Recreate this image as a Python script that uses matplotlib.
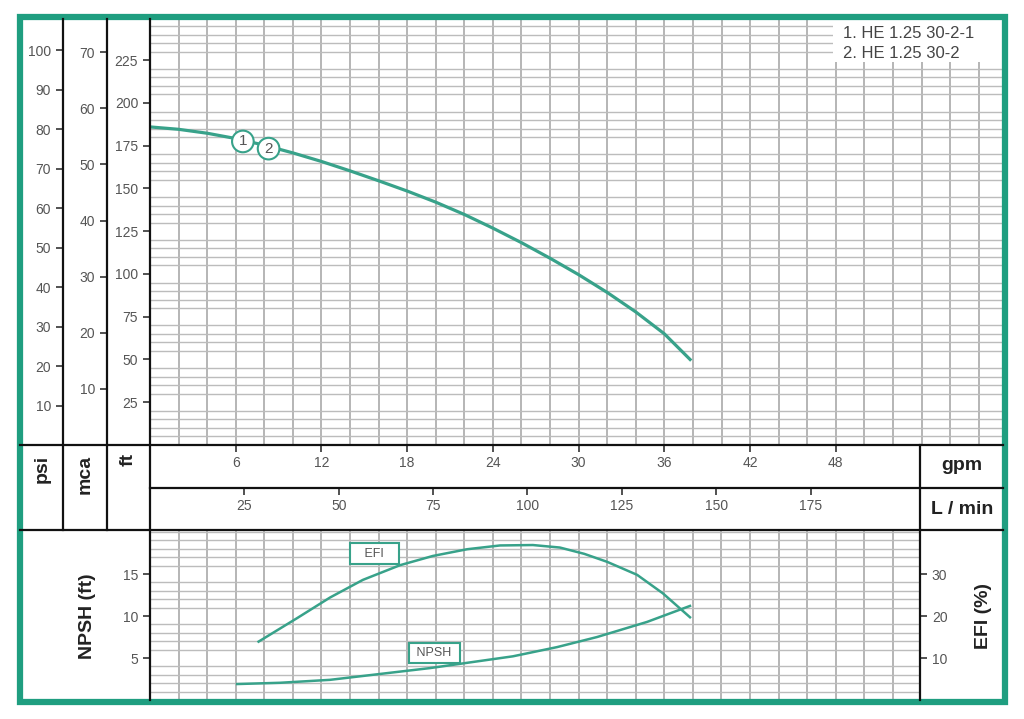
import matplotlib.pyplot as plt
import numpy as np
from matplotlib.lines import Line2D
from matplotlib.patches import Rectangle

plt.rcParams['font.family'] = ['Liberation Sans', 'DejaVu Sans']

# head curve (gpm, ft)
head_gpm = [0, 2, 4, 6, 8, 10, 12, 14, 16, 18, 20, 22, 24, 26, 28, 30, 32, 34, 36, 37.8]
head_ft = [186, 184.6, 182.3, 179.2, 175.3, 170.8, 165.8, 160.3, 154.5, 148.5, 142, 134.8,
           126.8, 118.3, 109.2, 99.6, 89.2, 77.8, 65, 50]

# efficiency curve (gpm, %)
efi_gpm = [7.6, 10.3, 12.6, 14.9, 17.5, 19.8, 22.2, 24.5, 26.8, 28.7, 30.4, 32.0, 34.1, 35.9, 37.8]
efi_pct = [13.9, 19.5, 24.4, 28.6, 32.1, 34.3, 35.9, 36.8, 36.9, 36.3, 34.8, 32.9, 29.8, 25.4, 19.7]

# NPSH curve (gpm, ft)
npsh_gpm = [6.1, 9.1, 12.6, 16.1, 19.6, 22.5, 25.4, 28.5, 31.3, 34.8, 37.8]
npsh_ft = [1.9, 2.05, 2.4, 3.1, 3.8, 4.5, 5.2, 6.3, 7.5, 9.3, 11.2]

models = ['1. HE 1.25 30-2-1', '2. HE 1.25 30-2']
model_tags = ['1', '2']
tag_gpm = [6.5, 8.3]
tag_ft = [177.5, 173.3]

gpm_ticks = [6, 12, 18, 24, 30, 36, 42, 48]
lmin_ticks = [25, 50, 75, 100, 125, 150, 175]
psi_ticks = [10, 20, 30, 40, 50, 60, 70, 80, 90, 100]
mca_ticks = [10, 20, 30, 40, 50, 60, 70]
ft_ticks = [25, 50, 75, 100, 125, 150, 175, 200, 225]
npsh_ticks = [5, 10, 15]
efi_ticks = [10, 20, 30]

W, H = 1024, 719
TEAL = '#1f9e80'
CURVE = '#38a28a'
GRID = '#bcbcbc'
TXT = '#555555'

GPM_MAX = 53.9
GPM_TOP = 59.7
FT_MAX = 249.1
NPSH_MAX = 20.24


def rect(x0, y0, x1, y1):
    return [x0 / W, 1 - y1 / H, (x1 - x0) / W, (y1 - y0) / H]


def plain(ax):
    ax.set_facecolor('none')
    for s in ax.spines.values():
        s.set_visible(False)


fig = plt.figure(figsize=(W / 100, H / 100), dpi=100)

# --- head panel
ax = fig.add_axes(rect(150, 19, 1003, 445))
plain(ax)
ax.set_xlim(0, GPM_TOP)
ax.set_ylim(0, FT_MAX)
ax.set_xticks(np.arange(0, GPM_TOP, 2), minor=True)
ax.set_yticks(np.arange(0, FT_MAX, 5), minor=True)
ax.grid(True, which='minor', axis='x', color='#b0b0b0', lw=1.3)
ax.grid(True, which='minor', axis='y', color=GRID, lw=1.0)
ax.set_axisbelow(True)
ax.set_xticks([])
ax.set_yticks(ft_ticks)
ax.tick_params(axis='y', which='major', direction='out', length=5, width=1.2,
               labelsize=10, labelcolor=TXT, color='#333333')
ax.tick_params(which='minor', length=0)
ax.plot(head_gpm, head_ft, color=CURVE, lw=2.3)
for t, gx, gy in zip(model_tags, tag_gpm, tag_ft):
    ax.text(gx, gy, t, ha='center', va='center', fontsize=11, color=TXT,
            bbox=dict(boxstyle='circle,pad=0.25', fc='white', ec=CURVE, lw=1.5))

# --- psi and mca scales
for x0, x1, conv, ticks in [(63, 107, 2.307, psi_ticks), (107, 150, 3.281, mca_ticks)]:
    a = fig.add_axes(rect(x0, 19, x1, 445))
    plain(a)
    a.set_xticks([])
    a.set_ylim(0, FT_MAX / conv)
    a.set_yticks(ticks)
    a.tick_params(axis='y', direction='out', length=5, width=1.2,
                  labelsize=10, labelcolor=TXT, color='#333333')

# --- flow scales
for y0, y1, xmax, ticks in [(445, 488, GPM_MAX, gpm_ticks), (488, 530, GPM_MAX * 3.785, lmin_ticks)]:
    a = fig.add_axes(rect(150, y0, 920, y1))
    plain(a)
    a.set_yticks([])
    a.set_xlim(0, xmax)
    a.set_xticks(ticks)
    a.xaxis.set_ticks_position('top')
    a.tick_params(axis='x', direction='in', length=5, width=1.2, pad=-18,
                  labelsize=10, labelcolor=TXT, color='#333333')

# --- NPSH / efficiency panel
ab = fig.add_axes(rect(150, 530, 920, 700))
plain(ab)
ab.set_xlim(0, GPM_MAX)
ab.set_ylim(0, NPSH_MAX)
ab.set_xticks(np.arange(0, GPM_MAX, 2), minor=True)
ab.set_yticks(np.arange(0, NPSH_MAX, 1), minor=True)
ab.grid(True, which='minor', axis='x', color='#b0b0b0', lw=1.3)
ab.grid(True, which='minor', axis='y', color=GRID, lw=1.0)
ab.set_axisbelow(True)
ab.set_xticks([])
ab.set_yticks(npsh_ticks)
ab.tick_params(axis='y', which='major', direction='out', length=5, width=1.2,
               labelsize=10, labelcolor=TXT, color='#333333')
ab.tick_params(which='minor', length=0)
ab.plot(npsh_gpm, npsh_ft, color=CURVE, lw=1.8)
ab.text(19.9, 5.6, ' NPSH ', ha='center', va='center', fontsize=9, color=TXT,
        bbox=dict(boxstyle='square,pad=0.35', fc='white', ec=CURVE, lw=1.5))

ae = ab.twinx()
plain(ae)
ae.set_ylim(0, NPSH_MAX * 2)
ae.set_yticks(efi_ticks)
ae.tick_params(axis='y', direction='out', length=5, width=1.2,
               labelsize=10, labelcolor=TXT, color='#333333')
ae.plot(efi_gpm, efi_pct, color=CURVE, lw=1.8)
ae.text(15.7, 34.8, '   EFI   ', ha='center', va='center', fontsize=9, color=TXT,
        bbox=dict(boxstyle='square,pad=0.35', fc='white', ec=CURVE, lw=1.5))

# --- frame lines and captions (pixel space)
fr = fig.add_axes([0, 0, 1, 1])
fr.set_xlim(0, W)
fr.set_ylim(H, 0)
fr.axis('off')
fr.set_facecolor('none')

# model list box in the top right corner
fr.add_patch(Rectangle((833, 19), 170, 43, fc='white', ec='none'))
for i, m in enumerate(models):
    fr.text(843, 34 + 20 * i, m, ha='left', va='center', fontsize=12, color='#444444')

lk = dict(color='#111111', lw=1.6)
for xs, ys in [([63, 63], [19, 530]), ([107, 107], [19, 530]), ([150, 150], [19, 700]),
               ([20, 1003], [445, 445]), ([150, 1003], [488, 488]), ([20, 1003], [530, 530]),
               ([920, 920], [445, 700])]:
    fr.add_line(Line2D(xs, ys, **lk))
fr.add_patch(Rectangle((20, 17), 985, 685, fill=False, ec=TEAL, lw=4.5))

bold = dict(fontsize=14, fontweight='bold', color='#222222')
fr.text(42, 455, 'psi', rotation=90, ha='center', va='top', **bold)
fr.text(85, 455, 'mca', rotation=90, ha='center', va='top', **bold)
fr.text(128, 453, 'ft', rotation=90, ha='center', va='top', **bold)
fr.text(962, 465, 'gpm', ha='center', va='center', **bold)
fr.text(962, 509, 'L / min', ha='center', va='center', **bold)
fr.text(88, 616, 'NPSH (ft)', rotation=90, ha='center', va='center', **bold)
fr.text(984, 616, 'EFI (%)', rotation=90, ha='center', va='center', **bold)

fig.savefig('out.png', dpi=100, facecolor='white')
